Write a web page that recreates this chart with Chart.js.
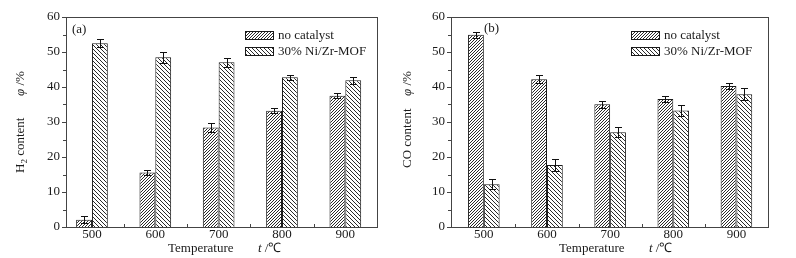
<!DOCTYPE html>
<html>
<head>
<meta charset="utf-8">
<script src="https://cdn.jsdelivr.net/npm/chart.js@4"></script>
<style>
    body { margin: 0; background: #fff; }
    #wrap { position: relative; width: 796px; height: 258px; }
    canvas { position: absolute; top: 0; }
</style>
</head>
<body>
<div id="wrap">
    <canvas id="h2Chart" width="400" height="258" style="left:0"></canvas>
    <canvas id="coChart" width="396" height="258" style="left:400px"></canvas>
</div>
<script>
// values (content, %)
const temperatures = [500, 600, 700, 800, 900];
const seriesNames = ["no catalyst", "30% Ni/Zr-MOF"];
const yTicks = [0, 10, 20, 30, 40, 50, 60];

const h2NoCat = [2.1, 15.6, 28.4, 33.2, 37.5];
const h2NoCatErr = [1.0, 0.8, 1.2, 0.7, 0.7];
const h2Ni = [52.5, 48.5, 47.1, 42.8, 41.9];
const h2NiErr = [1.1, 1.5, 1.3, 0.7, 1.1];

const coNoCat = [54.9, 42.2, 35.1, 36.6, 40.3];
const coNoCatErr = [0.9, 1.1, 1.0, 0.8, 0.9];
const coNi = [12.2, 17.7, 27.1, 33.3, 37.9];
const coNiErr = [1.4, 1.6, 1.5, 1.5, 1.7];

const SERIF = "'Liberation Serif', 'Times New Roman', serif";
const INK = "#1a1a1a";

// hatch fill: forward = "////", otherwise "\\\\"
function makeHatch(step, forward) {
    const c = document.createElement("canvas");
    c.width = step; c.height = step;
    const g = c.getContext("2d");
    g.fillStyle = "#fff";
    g.fillRect(0, 0, step, step);
    g.strokeStyle = "#2a2a2a";
    g.lineWidth = 1;
    g.beginPath();
    for (let k = -1; k <= 1; k++) {
        if (forward) {
            g.moveTo(k * step, step);
            g.lineTo(k * step + step, 0);
        } else {
            g.moveTo(k * step, 0);
            g.lineTo(k * step + step, step);
        }
    }
    g.stroke();
    return g.createPattern(c, "repeat");
}

const hatchFwd = makeHatch(3, true);
const hatchBack = makeHatch(4, false);

// frame + tick marks
const framePlugin = {
    id: "frame",
    afterDraw(chart) {
        const { ctx, chartArea: a, scales: { x, y } } = chart;
        ctx.save();
        ctx.strokeStyle = "#444";
        ctx.lineWidth = 1;
        ctx.strokeRect(Math.round(a.left) + 0.5, Math.round(a.top) + 0.5,
            Math.round(a.right - a.left), Math.round(a.bottom - a.top));
        ctx.beginPath();
        // y ticks, major every 10 and minor every 5, outward
        for (let v = 0; v <= 60; v += 5) {
            const py = Math.round(y.getPixelForValue(v)) + 0.5;
            const len = v % 10 === 0 ? 4 : 3;
            ctx.moveTo(Math.round(a.left) - len, py);
            ctx.lineTo(Math.round(a.left), py);
        }
        // x ticks between the groups, inward
        for (let i = 0; i < temperatures.length - 1; i++) {
            const px = Math.round(x.getPixelForValue((temperatures[i] + temperatures[i + 1]) / 2)) + 0.5;
            ctx.moveTo(px, Math.round(a.bottom));
            ctx.lineTo(px, Math.round(a.bottom) - 3);
        }
        ctx.stroke();
        ctx.restore();
    }
};

// error bars
const errorBarPlugin = {
    id: "errorBars",
    afterDatasetsDraw(chart) {
        const { ctx, scales: { y } } = chart;
        ctx.save();
        ctx.strokeStyle = "#111";
        ctx.lineWidth = 1;
        chart.data.datasets.forEach((ds, di) => {
            const meta = chart.getDatasetMeta(di);
            meta.data.forEach((bar, i) => {
                const v = ds.data[i].y, e = ds.err[i];
                const px = Math.round(bar.x) + 0.5;
                const top = Math.round(y.getPixelForValue(v + e)) + 0.5;
                const bot = Math.round(y.getPixelForValue(Math.max(0, v - e))) + 0.5;
                ctx.beginPath();
                ctx.moveTo(px, top); ctx.lineTo(px, bot);
                ctx.moveTo(px - 3.5, top); ctx.lineTo(px + 3.5, top);
                ctx.moveTo(px - 3.5, bot); ctx.lineTo(px + 3.5, bot);
                ctx.stroke();
            });
        });
        ctx.restore();
    }
};

// legend, panel tag and axis titles
const decorPlugin = {
    id: "decor",
    afterDraw(chart) {
        const o = chart.options.plugins.decor;
        const ctx = chart.ctx;
        ctx.save();
        ctx.fillStyle = INK;
        ctx.textBaseline = "middle";
        ctx.font = "13px " + SERIF;

        // panel tag
        ctx.fillText(o.tag, o.tagX, o.tagY);

        // legend
        const fills = [hatchFwd, hatchBack];
        seriesNames.forEach((name, i) => {
            const by = o.legY + i * 16;
            ctx.fillStyle = fills[i];
            ctx.fillRect(o.legX, by, 29, 9);
            ctx.strokeStyle = INK;
            ctx.strokeRect(o.legX + 0.5, by + 0.5, 28, 8);
            ctx.fillStyle = INK;
            ctx.fillText(name, o.legX + 33, by + 4.5);
        });

        // x title
        ctx.font = "13px " + SERIF;
        ctx.fillText("Temperature", o.xtX, 249);
        ctx.font = "italic 13px " + SERIF;
        ctx.fillText("t", o.xtX + 90, 249);
        const tw = ctx.measureText("t").width;
        ctx.font = "13px " + SERIF;
        ctx.fillText(" /\u2103", o.xtX + 90 + tw, 249);

        // y title, rotated
        ctx.translate(o.ytX, o.ytBottom);
        ctx.rotate(-Math.PI / 2);
        let cx = 0;
        o.yParts.forEach(p => {
            ctx.font = p.font + SERIF;
            ctx.fillText(p.text, cx, p.dy || 0);
            cx += ctx.measureText(p.text).width;
        });
        ctx.font = "italic 13px " + SERIF;
        ctx.fillText("\u03c6", o.phiAt, 0);
        const pw = ctx.measureText("\u03c6").width;
        ctx.font = "13px " + SERIF;
        ctx.fillText(" /%", o.phiAt + pw, 0);
        ctx.restore();
    }
};

function buildChart(id, cfg) {
    const mk = (vals, errs, fill, label) => ({
        label: label,
        data: temperatures.map((t, i) => ({ x: t, y: vals[i] })),
        err: errs,
        backgroundColor: fill,
        borderColor: INK,
        borderWidth: 1,
        categoryPercentage: 0.5,
        barPercentage: 1
    });
    return new Chart(document.getElementById(id), {
        type: "bar",
        data: {
            datasets: [
                mk(cfg.a, cfg.aErr, hatchFwd, seriesNames[0]),
                mk(cfg.b, cfg.bErr, hatchBack, seriesNames[1])
            ]
        },
        options: {
            responsive: false,
            devicePixelRatio: 1,
            animation: false,
            layout: { padding: { top: 17, right: cfg.padRight, bottom: 0, left: 0 } },
            plugins: {
                legend: { display: false },
                tooltip: { enabled: false },
                decor: cfg.decor
            },
            scales: {
                x: {
                    type: "linear",
                    min: cfg.xMin,
                    max: 950,
                    offset: false,
                    grid: { display: false, drawTicks: false, offset: false },
                    border: { display: false },
                    afterBuildTicks: s => { s.ticks = temperatures.map(v => ({ value: v })); },
                    afterFit: s => { s.height = 31; },
                    ticks: { font: { family: SERIF, size: 13 }, color: INK, padding: 0, maxRotation: 0, autoSkip: false }
                },
                y: {
                    min: 0,
                    max: 60,
                    grid: { display: false, drawTicks: false },
                    border: { display: false },
                    afterBuildTicks: s => { s.ticks = yTicks.map(v => ({ value: v })); },
                    afterFit: s => { s.width = cfg.yWidth; },
                    ticks: { font: { family: SERIF, size: 13 }, color: INK, padding: 6 }
                }
            }
        },
        plugins: [errorBarPlugin, framePlugin, decorPlugin]
    });
}

buildChart("h2Chart", {
    a: h2NoCat, aErr: h2NoCatErr, b: h2Ni, bErr: h2NiErr,
    xMin: 459, padRight: 23, yWidth: 66,
    decor: {
        tag: "(a)", tagX: 72, tagY: 30,
        legX: 245, legY: 31,
        xtX: 168,
        ytX: 21, ytBottom: 173, phiAt: 77,
        yParts: [
            { text: "H", font: "13px " },
            { text: "2", font: "9px ", dy: 4 },
            { text: " content", font: "13px " }
        ]
    }
});

buildChart("coChart", {
    a: coNoCat, aErr: coNoCatErr, b: coNi, bErr: coNiErr,
    xMin: 448, padRight: 28, yWidth: 51,
    decor: {
        tag: "(b)", tagX: 84, tagY: 29,
        legX: 231, legY: 31,
        xtX: 159,
        ytX: 8, ytBottom: 168, phiAt: 72,
        yParts: [
            { text: "CO content", font: "13px " }
        ]
    }
});
</script>
</body>
</html>
